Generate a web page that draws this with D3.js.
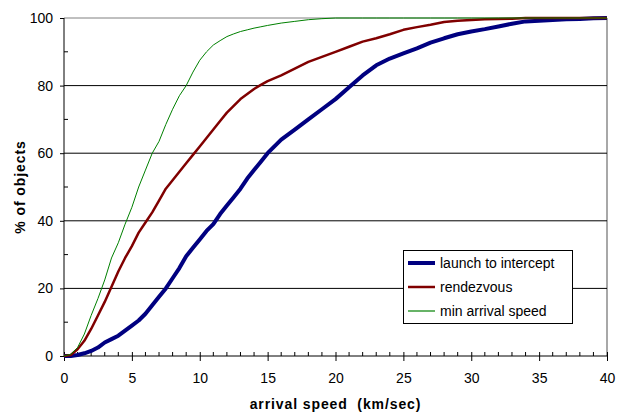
<!DOCTYPE html>
<html>
<head>
<meta charset="utf-8">
<script src="https://cdn.jsdelivr.net/npm/d3@7"></script>
<style>
  body { margin: 0; background: #fff; }
  text { font-family: "Liberation Sans", Arial, sans-serif; }
  .ticklabel { font-size: 14px; }
  .axistitle { font-size: 14px; font-weight: bold; letter-spacing: 0.9px; white-space: pre; }
  .legendtext { font-size: 14px; }
</style>
</head>
<body>
<div id="chart"></div>
<script>
// data
var speeds = [0, 0.5, 1, 1.5, 2, 2.5, 3, 3.5, 4, 4.5, 5, 5.5, 6, 6.5, 7, 7.5, 8, 8.5, 9, 9.5,
  10, 10.5, 11, 11.5, 12, 12.5, 13, 13.5, 14, 14.5,
  15, 16, 17, 18, 19, 20, 21, 22, 23, 24, 25, 26, 27, 28, 29, 30, 31, 32, 33, 34, 35, 36, 37, 38, 39, 40];

var launchToIntercept = [0, 0, 0.3, 0.8, 1.5, 2.5, 4, 5, 6, 7.5, 9, 10.5, 12.5, 15, 17.5, 20, 23, 26, 29.5, 32,
  34.5, 37, 39, 42, 44.5, 47, 49.5, 52.5, 55, 57.5,
  60, 64, 67, 70, 73, 76, 79.5, 83, 86, 88, 89.5, 91, 92.7, 94, 95.2, 96, 96.7, 97.5, 98.3, 99, 99.2, 99.4, 99.6, 99.7, 99.9, 100];

var rendezvous = [0, 0.3, 2, 4.5, 8, 12, 16, 20.5, 25, 29, 32.5, 36.5, 39.5, 42.5, 46, 49.5, 52, 54.5, 57, 59.5,
  62, 64.5, 67, 69.5, 72, 74, 76, 77.5, 79, 80.2,
  81.3, 83, 85, 87, 88.5, 90, 91.5, 93, 94, 95.2, 96.5, 97.3, 98, 98.8, 99.2, 99.4, 99.6, 99.7, 99.8, 100, 100, 100, 100, 100, 100, 100];

var minArrival = [0, 0.5, 2.5, 6.5, 12, 17, 22.5, 29, 33.5, 39, 44, 50, 55, 60, 63.5, 68.5, 73, 77, 80, 84,
  87.5, 90, 92, 93.3, 94.5, 95.3, 96, 96.5, 97, 97.4,
  97.8, 98.5, 99, 99.5, 99.8, 100, 100, 100, 100, 100, 100, 100, 100, 100, 100, 100, 100, 100, 100, 100, 100, 100, 100, 100, 100, 100];

var seriesNames = ["launch to intercept", "rendezvous", "min arrival speed"];
var xTicks = [0, 5, 10, 15, 20, 25, 30, 35, 40];
var yTicks = [0, 20, 40, 60, 80, 100];

var series = [
  { name: seriesNames[0], values: launchToIntercept, color: "#000080", width: 4 },
  { name: seriesNames[1], values: rendezvous, color: "#800000", width: 2.5 },
  { name: seriesNames[2], values: minArrival, color: "#008000", width: 1 }
];

var W = 620, H = 412;
var pLeft = 64, pRight = 607, pTop = 18, pBottom = 356;

var svg = d3.select("#chart").append("svg")
  .attr("width", W).attr("height", H);

var x = d3.scaleLinear().domain([0, 40]).range([pLeft, pRight]);
var y = d3.scaleLinear().domain([0, 100]).range([pBottom, pTop]);

// plot area border, right side
svg.append("line").attr("x1", pRight).attr("x2", pRight).attr("y1", pTop).attr("y2", pBottom)
  .attr("stroke", "#a8a8a8").attr("stroke-width", 2);

// gridlines
svg.append("g").selectAll("line").data(yTicks.slice(1)).join("line")
  .attr("x1", pLeft).attr("x2", pRight)
  .attr("y1", function(d) { return y(d); }).attr("y2", function(d) { return y(d); })
  .attr("stroke", function(d) { return d === 100 ? "#808080" : "#000"; })
  .attr("stroke-width", 1);

// axes
var xAxis = svg.append("g").attr("transform", "translate(0," + pBottom + ")")
  .call(d3.axisBottom(x).tickValues(xTicks).tickSize(5).tickPadding(12).tickFormat(d3.format("d")));
var yAxis = svg.append("g").attr("transform", "translate(" + pLeft + ",0)")
  .call(d3.axisLeft(y).tickValues(yTicks).tickSize(4).tickPadding(7).tickFormat(d3.format("d")));

[xAxis, yAxis].forEach(function(a) {
  a.select(".domain").attr("stroke", "#000");
  a.selectAll(".tick line").attr("stroke", "#000");
  a.selectAll(".tick text").attr("class", "ticklabel").attr("fill", "#000");
});
xAxis.selectAll(".tick line").attr("y1", -4);
xAxis.select(".domain").attr("d", "M" + pLeft + ",0H" + pRight);
yAxis.select(".domain").attr("d", "M0," + pTop + "V" + pBottom);

// minor ticks
svg.append("g").selectAll("line").data(d3.range(0, 41, 1).filter(function(d) { return d % 5 !== 0; })).join("line")
  .attr("x1", function(d) { return x(d); }).attr("x2", function(d) { return x(d); })
  .attr("y1", pBottom - 4).attr("y2", pBottom)
  .attr("stroke", "#000");
svg.append("g").selectAll("line").data([10, 30, 50, 70, 90]).join("line")
  .attr("x1", pLeft).attr("x2", pLeft + 4)
  .attr("y1", function(d) { return y(d); }).attr("y2", function(d) { return y(d); })
  .attr("stroke", "#000");

// curves
var line = d3.line()
  .x(function(d) { return x(d[0]); })
  .y(function(d) { return y(d[1]); });

svg.append("g").selectAll("path").data(series).join("path")
  .attr("d", function(s) { return line(speeds.map(function(v, i) { return [v, s.values[i]]; })); })
  .attr("fill", "none")
  .attr("stroke", function(s) { return s.color; })
  .attr("stroke-width", function(s) { return s.width; })
  .attr("stroke-linejoin", "round");

// axis titles
svg.append("text").attr("class", "axistitle")
  .attr("x", (pLeft + pRight) / 2).attr("y", 409)
  .attr("text-anchor", "middle")
  .text("arrival speed  (km/sec)");
svg.append("text").attr("class", "axistitle")
  .attr("transform", "translate(25," + (pTop + pBottom) / 2 + ") rotate(-90)")
  .attr("text-anchor", "middle")
  .text("% of objects");

// legend
var legend = svg.append("g").attr("transform", "translate(403,250)");
legend.append("rect").attr("x", 0.5).attr("y", 0.5).attr("width", 169).attr("height", 73)
  .attr("fill", "#fff").attr("stroke", "#000");
var rows = legend.selectAll("g.row").data(series).join("g")
  .attr("class", "row")
  .attr("transform", function(d, i) { return "translate(0," + (13 + i * 24) + ")"; });
rows.append("line").attr("x1", 5).attr("x2", 32).attr("y1", 0).attr("y2", 0)
  .attr("stroke", function(d) { return d.color; })
  .attr("stroke-width", function(d) { return d.width === 1 ? 1.2 : d.width; });
rows.append("text").attr("class", "legendtext")
  .attr("x", 37).attr("y", 5)
  .text(function(d) { return d.name; });
</script>
</body>
</html>
